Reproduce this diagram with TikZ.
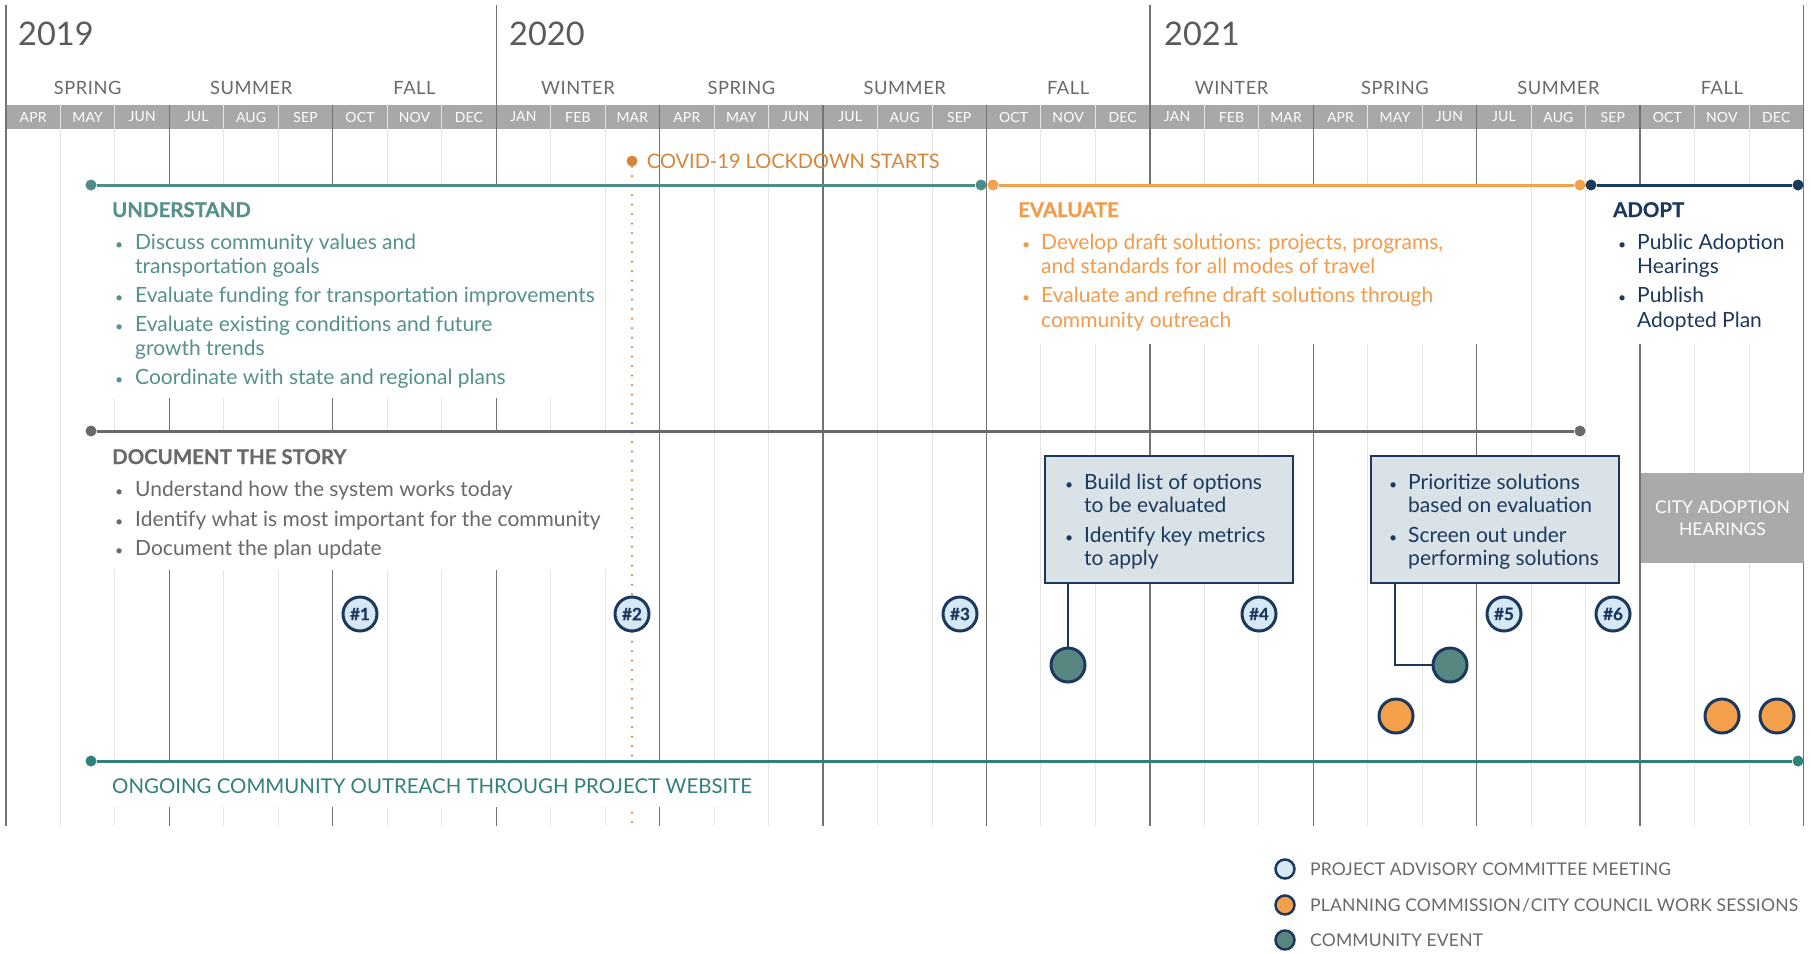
\documentclass[tikz,border=0pt]{standalone}
\usepackage{fontspec}
\setmainfont{Lato}
\newfontfamily\trackedfont[LetterSpace=3]{Lato}
\newfontfamily\legendfont[LetterSpace=1]{Lato}
\newfontfamily\headfont[FakeBold=0.6]{Lato}
\usetikzlibrary{positioning}
\definecolor{tealtext}{RGB}{84,145,140}
\definecolor{tealline}{RGB}{79,140,137}
\definecolor{webteal}{RGB}{48,128,124}
\definecolor{orangetext}{RGB}{243,155,75}
\definecolor{covidorange}{RGB}{214,134,58}
\definecolor{navyblue}{RGB}{28,57,93}
\definecolor{storygray}{RGB}{105,105,105}
\definecolor{yeargray}{RGB}{90,90,90}
\definecolor{barfill}{RGB}{167,168,170}
\definecolor{gridlight}{RGB}{228,228,228}
\definecolor{griddark}{RGB}{115,115,115}
\definecolor{boxfill}{RGB}{217,226,231}
\definecolor{pacfill}{RGB}{215,232,245}
\definecolor{eventfill}{RGB}{88,135,130}
\definecolor{workorange}{RGB}{245,160,75}
\definecolor{hearinggray}{RGB}{170,170,170}
\newcommand{\setfs}[1]{\fontsize{#1}{#1}\selectfont}

\begin{document}
\begin{tikzpicture}[x=1pt, y=-1pt,
  every node/.style={inner sep=0pt},
  monthlbl/.style={font=\legendfont\setfs{14}, text=white},
  seasonlbl/.style={font=\trackedfont\setfs{18.3}, text=storygray},
  yearlbl/.style={anchor=base west, font=\setfs{32.5}, text=yeargray},
  itemtxt/.style={anchor=mid west, yshift=-4.5pt, font=\setfs{21}},
  bulletmark/.style={anchor=mid west, yshift=-4.5pt, font=\setfs{14}},
  phasehead/.style={anchor=mid west, yshift=-4.5pt, font=\headfont\bfseries\setfs{20.4}},
  enddot/.style={circle, minimum size=11},
  phaseline/.style={line width=3},
  pac/.style={circle, draw=navyblue, line width=3, fill=pacfill, minimum size=34, text=navyblue, font=\headfont\bfseries\setfs{17}},
  eventdot/.style={circle, draw=navyblue, line width=3, fill=eventfill, minimum size=34},
  workdot/.style={circle, draw=navyblue, line width=3, fill=workorange, minimum size=34},
  notebox/.style={draw=navyblue, line width=2.5, fill=boxfill, minimum width=248, minimum height=127},
  legendtxt/.style={anchor=mid west, yshift=-3.5pt, font=\legendfont\setfs{17.5}, text=storygray}]
    \useasboundingbox (0,0) rectangle (1811,953);
    \fill[white] (0,0) rectangle (1811,953);

    % month bar
    \fill[barfill] (6,105) rectangle (1803.5,129);
    \foreach \i in {1,...,32}
        \draw[gridlight, line width=1] ({6+54.47*\i},105) -- ({6+54.47*\i},826);
    \foreach \i in {3,6,12,15,18,24,27,30}
        \draw[griddark, line width=1.3] ({6+54.47*\i},105) -- ({6+54.47*\i},826);
    \foreach \i in {0,9,21,33}
        \draw[griddark, line width=1.3] ({6+54.47*\i},5) -- ({6+54.47*\i},826);

    \foreach \m [count=\i from 0] in {APR,MAY,JUN,JUL,AUG,SEP,OCT,NOV,DEC,JAN,FEB,MAR,APR,MAY,JUN,JUL,AUG,SEP,OCT,NOV,DEC,JAN,FEB,MAR,APR,MAY,JUN,JUL,AUG,SEP,OCT,NOV,DEC}
        \node[monthlbl] (m\i) at ({33.2+54.47*\i},117) {\m};
    \foreach \s [count=\i from 0] in {SPRING,SUMMER,FALL,WINTER,SPRING,SUMMER,FALL,WINTER,SPRING,SUMMER,FALL}
        \node[seasonlbl] (s\i) at ({6+54.47*(3*\i+1.5)},88) {\s};
    \node[yearlbl] (y19) at (18,45) {2019};
    \node[yearlbl] (y20) at (509,45) {2020};
    \node[yearlbl] (y21) at (1164,45) {2021};

    % covid
    \node[circle, fill=covidorange, minimum size=11] (covid) at (632,161) {};
    \node[anchor=mid west, font=\setfs{20}, text=covidorange, right=9pt of covid] (covidlbl) {COVID-19 LOCKDOWN STARTS};
    \coordinate (covidend) at (632,826);
    \draw[covidorange, line width=2.5, line cap=round, dash pattern=on 0pt off 9.5pt] (covid) -- (covidend);

    % white behind text
    \fill[white] (85,187) rectangle (600,398);
    \fill[white] (85,433) rectangle (615,570);
    \fill[white] (995,187) rectangle (1510,344);
    \fill[white] (1595,187) rectangle (1797,344);
    \fill[white] (85,763) rectangle (760,807);

    % phases
    \node[enddot, fill=tealline] (und-a) at (91,185) {};
    \node[enddot, fill=tealline] (und-b) at (981,185) {};
    \node[enddot, fill=workorange] (eva-a) at (993,185) {};
    \node[enddot, fill=workorange] (eva-b) at (1580,185) {};
    \node[enddot, fill=navyblue] (ado-a) at (1591,185) {};
    \node[enddot, fill=navyblue] (ado-b) at (1798,185) {};
    \node[enddot, fill=storygray] (doc-a) at (91,431) {};
    \node[enddot, fill=storygray] (doc-b) at (1580,431) {};
    \node[enddot, fill=webteal] (web-a) at (91,761) {};
    \node[enddot, fill=webteal] (web-b) at (1798,761) {};
    \draw[phaseline, tealline] (und-a) -- (und-b);
    \draw[phaseline, workorange] (eva-a) -- (eva-b);
    \draw[phaseline, navyblue] (ado-a) -- (ado-b);
    \draw[phaseline, storygray] (doc-a) -- (doc-b);
    \draw[phaseline, webteal] (web-a) -- (web-b);

    % understand
    \node[phasehead, text=tealtext] (und) at (112,210) {UNDERSTAND};
    \foreach \yy/\linetext [count=\k] in {242/Discuss community values and, 266/transportation goals, 295/Evaluate funding for transportation improvements, 324/Evaluate existing conditions and future, 348/growth trends, 377/Coordinate with state and regional plans}
        \node[itemtxt, text=tealtext] (und\k) at (135,\yy) {\linetext};
    \foreach \yy [count=\k] in {242,295,324,377}
        \node[bulletmark, text=tealtext] (undb\k) at (115,\yy) {\textbullet};

    % document
    \node[phasehead, text=storygray] (doc) at (112,457) {DOCUMENT THE STORY};
    \foreach \yy/\linetext [count=\k] in {489/Understand how the system works today, 519/Identify what is most important for the community, 548/Document the plan update}
        \node[itemtxt, text=storygray] (doc\k) at (135,\yy) {\linetext};
    \foreach \yy [count=\k] in {489,519,548}
        \node[bulletmark, text=storygray] (docb\k) at (115,\yy) {\textbullet};

    % evaluate
    \node[phasehead, text=orangetext] (eva) at (1018,210) {EVALUATE};
    \foreach \yy/\linetext [count=\k] in {242/{Develop draft solutions: projects, programs,}, 266/and standards for all modes of travel, 295/Evaluate and refine draft solutions through, 320/community outreach}
        \node[itemtxt, text=orangetext] (eva\k) at (1041,\yy) {\linetext};
    \foreach \yy [count=\k] in {242,295}
        \node[bulletmark, text=orangetext] (evab\k) at (1022,\yy) {\textbullet};

    % adopt
    \node[phasehead, text=navyblue] (ado) at (1613,210) {ADOPT};
    \foreach \yy/\linetext [count=\k] in {242/Public Adoption, 266/Hearings, 295/Publish, 320/Adopted Plan}
        \node[itemtxt, text=navyblue] (ado\k) at (1637,\yy) {\linetext};
    \foreach \yy [count=\k] in {242,295}
        \node[bulletmark, text=navyblue] (adob\k) at (1618,\yy) {\textbullet};

    % outreach
    \node[anchor=mid west, yshift=-3.5pt, font=\setfs{20.4}, text=webteal] (web) at (112,787) {ONGOING COMMUNITY OUTREACH THROUGH PROJECT WEBSITE};

    % boxes
    \node[notebox] (box1) at (1169,519.5) {};
    \node[notebox] (box2) at (1495,519.5) {};
    \foreach \yy/\linetext [count=\k] in {482/Build list of options, 505/to be evaluated, 535/Identify key metrics, 558/to apply}
        \node[itemtxt, text=navyblue] (bxa\k) at (1084,\yy) {\linetext};
    \foreach \yy/\linetext [count=\k] in {482/Prioritize solutions, 505/based on evaluation, 535/Screen out under, 558/performing solutions}
        \node[itemtxt, text=navyblue] (bxb\k) at (1408,\yy) {\linetext};
    \foreach \yy [count=\k] in {482,535} {
        \node[bulletmark, text=navyblue] (bxab\k) at (1065,\yy) {\textbullet};
        \node[bulletmark, text=navyblue] (bxbb\k) at (1389,\yy) {\textbullet};
    }
    \node[fill=hearinggray, minimum width=163, minimum height=90, text=white, font=\setfs{17.5}, align=center] (hear) at (1722.5,518) {CITY ADOPTION\\[4pt]HEARINGS};

    % meetings
    \foreach \n/\xx in {1/360,2/632,3/960,4/1259,5/1504,6/1613}
        \node[pac] (pac\n) at (\xx,614) {\#\n};
    \node[eventdot] (ev1) at (1068,665) {};
    \node[eventdot] (ev2) at (1450,665) {};
    \node[workdot] (wk1) at (1396,716) {};
    \node[workdot] (wk2) at (1722,716) {};
    \node[workdot] (wk3) at (1777,716) {};
    \coordinate (b2foot) at ([xshift=-100pt]box2.south);
    \draw[navyblue, line width=2.5] (box1.south -| ev1) -- (ev1);
    \draw[navyblue, line width=2.5] (b2foot) |- (ev2);

    % legend
    \node[pac, minimum size=19, line width=2.5] (lg1) at (1285,869) {};
    \node[workdot, minimum size=19, line width=2.5] (lg2) at (1285,905) {};
    \node[eventdot, minimum size=19, line width=2.5] (lg3) at (1285,940) {};
    \node[legendtxt] (lgt1) at (1310,869) {PROJECT ADVISORY COMMITTEE MEETING};
    \node[legendtxt] (lgt2) at (1310,905) {PLANNING COMMISSION\kern1pt/\kern1pt CITY COUNCIL WORK SESSIONS};
    \node[legendtxt] (lgt3) at (1310,940) {COMMUNITY EVENT};
\end{tikzpicture}
\end{document}
